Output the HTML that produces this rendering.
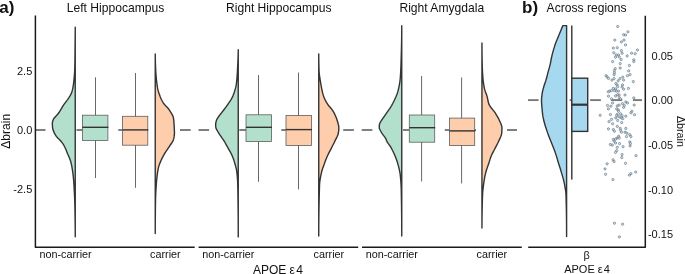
<!DOCTYPE html>
<html lang="en"><head><meta charset="utf-8"><title>Figure</title>
<style>html,body{margin:0;padding:0;background:#fff}svg{display:block}text{font-family:"Liberation Sans",sans-serif;fill:#111}</style>
</head><body>
<svg width="685" height="274" viewBox="0 0 685 274">
<rect width="685" height="274" fill="#ffffff"/>
<g stroke="#7a7a7a" stroke-width="1.9" fill="none">
<line x1="35.5" y1="130.0" x2="45.5" y2="130.0"/>
<line x1="76.5" y1="130.0" x2="82.5" y2="130.0"/>
<line x1="118.3" y1="130.0" x2="122.5" y2="130.0"/>
<line x1="180.0" y1="130.0" x2="190.7" y2="130.0"/>
<line x1="198.5" y1="130.0" x2="209.1" y2="130.0"/>
<line x1="239.3" y1="130.0" x2="246.0" y2="130.0"/>
<line x1="281.3" y1="130.0" x2="286.0" y2="130.0"/>
<line x1="343.2" y1="130.0" x2="353.9" y2="130.0"/>
<line x1="361.7" y1="130.0" x2="372.4" y2="130.0"/>
<line x1="403.0" y1="130.0" x2="409.3" y2="130.0"/>
<line x1="444.8" y1="130.0" x2="449.4" y2="130.0"/>
<line x1="474.7" y1="130.0" x2="476.0" y2="130.0"/>
<line x1="507.0" y1="130.0" x2="517.0" y2="130.0"/>
<line x1="528.0" y1="100.1" x2="538.6" y2="100.1"/>
<line x1="569.6" y1="100.1" x2="572.0" y2="100.1"/>
<line x1="590.1" y1="100.1" x2="600.9" y2="100.1"/>
<line x1="611.1" y1="100.1" x2="622.2" y2="100.1"/>
<line x1="632.9" y1="100.1" x2="642.0" y2="100.1"/>
</g>
<g stroke="#333333" stroke-width="1.4" stroke-linejoin="round">
<path d="M75.50 27.20 L75.50 27.20 L75.49 28.96 L75.48 30.72 L75.47 32.48 L75.45 34.25 L75.44 36.01 L75.43 37.77 L75.41 39.53 L75.39 41.29 L75.38 43.05 L75.36 44.81 L75.34 46.57 L75.32 48.34 L75.30 50.10 L75.28 51.86 L75.26 53.62 L75.24 55.38 L75.22 57.14 L75.20 58.90 L75.17 60.67 L75.14 62.43 L75.11 64.19 L75.08 65.95 L75.03 67.71 L74.99 69.47 L74.91 71.23 L74.80 72.99 L74.67 74.76 L74.53 76.52 L74.36 78.28 L74.20 80.04 L74.01 81.80 L73.79 83.56 L73.54 85.32 L73.25 87.09 L72.92 88.85 L72.51 90.61 L71.97 92.37 L71.21 94.13 L70.26 95.89 L69.23 97.65 L68.07 99.42 L66.74 101.18 L65.37 102.94 L64.07 104.70 L62.95 106.46 L61.95 108.22 L60.91 109.98 L59.78 111.74 L58.51 113.51 L57.03 115.27 L55.42 117.03 L53.91 118.79 L53.16 120.55 L52.67 122.31 L52.61 124.07 L52.69 125.84 L52.83 127.60 L53.11 129.36 L53.75 131.12 L54.51 132.88 L55.43 134.64 L56.60 136.40 L58.29 138.16 L60.10 139.93 L61.56 141.69 L62.88 143.45 L64.05 145.21 L65.00 146.97 L65.81 148.73 L66.53 150.49 L67.22 152.26 L67.94 154.02 L68.71 155.78 L69.47 157.54 L70.19 159.30 L70.82 161.06 L71.31 162.82 L71.71 164.58 L72.07 166.35 L72.38 168.11 L72.66 169.87 L72.92 171.63 L73.15 173.39 L73.36 175.15 L73.56 176.91 L73.73 178.68 L73.89 180.44 L74.02 182.20 L74.15 183.96 L74.26 185.72 L74.37 187.48 L74.46 189.24 L74.55 191.01 L74.64 192.77 L74.72 194.53 L74.80 196.29 L74.88 198.05 L74.95 199.81 L75.01 201.57 L75.06 203.33 L75.10 205.10 L75.14 206.86 L75.17 208.62 L75.21 210.38 L75.24 212.14 L75.27 213.90 L75.30 215.66 L75.33 217.43 L75.36 219.19 L75.38 220.95 L75.40 222.71 L75.43 224.47 L75.44 226.23 L75.46 227.99 L75.47 229.75 L75.49 231.52 L75.49 233.28 L75.50 235.04 L75.50 236.80 L75.50 236.80 Z" fill="#b3e0cc" transform="translate(-0.25 0)"/>
<path d="M155.50 54.00 L155.50 54.00 L155.51 55.51 L155.52 57.02 L155.55 58.53 L155.58 60.03 L155.62 61.54 L155.67 63.05 L155.73 64.56 L155.78 66.07 L155.84 67.58 L155.90 69.08 L155.97 70.59 L156.06 72.10 L156.15 73.61 L156.26 75.12 L156.39 76.63 L156.53 78.13 L156.68 79.64 L156.85 81.15 L157.03 82.66 L157.23 84.17 L157.44 85.68 L157.67 87.18 L157.94 88.69 L158.30 90.20 L158.73 91.71 L159.22 93.22 L159.75 94.73 L160.30 96.24 L160.89 97.74 L161.55 99.25 L162.30 100.76 L163.14 102.27 L164.15 103.78 L165.44 105.29 L166.86 106.79 L168.25 108.30 L169.47 109.81 L170.45 111.32 L171.42 112.83 L172.31 114.34 L173.06 115.84 L173.57 117.35 L173.82 118.86 L174.01 120.37 L174.15 121.88 L174.26 123.39 L174.35 124.89 L174.44 126.40 L174.52 127.91 L174.60 129.42 L174.66 130.93 L174.69 132.44 L174.69 133.95 L174.56 135.45 L174.32 136.96 L174.00 138.47 L173.62 139.98 L172.95 141.49 L171.99 143.00 L170.90 144.50 L169.86 146.01 L168.87 147.52 L167.83 149.03 L166.78 150.54 L165.77 152.05 L164.84 153.55 L163.99 155.06 L163.18 156.57 L162.41 158.08 L161.69 159.59 L161.03 161.10 L160.41 162.61 L159.81 164.11 L159.26 165.62 L158.81 167.13 L158.47 168.64 L158.18 170.15 L157.93 171.66 L157.71 173.16 L157.52 174.67 L157.34 176.18 L157.17 177.69 L157.01 179.20 L156.86 180.71 L156.72 182.21 L156.59 183.72 L156.48 185.23 L156.39 186.74 L156.30 188.25 L156.21 189.76 L156.13 191.26 L156.05 192.77 L155.98 194.28 L155.92 195.79 L155.86 197.30 L155.82 198.81 L155.79 200.32 L155.77 201.82 L155.75 203.33 L155.72 204.84 L155.70 206.35 L155.68 207.86 L155.66 209.37 L155.64 210.87 L155.63 212.38 L155.61 213.89 L155.59 215.40 L155.58 216.91 L155.57 218.42 L155.55 219.92 L155.54 221.43 L155.53 222.94 L155.52 224.45 L155.52 225.96 L155.51 227.47 L155.51 228.97 L155.50 230.48 L155.50 231.99 L155.50 233.50 L155.50 233.50 Z" fill="#fdcdac" transform="translate(-0.25 0)"/>
<path d="M238.50 49.70 L238.50 49.70 L238.48 51.27 L238.44 52.85 L238.40 54.42 L238.36 55.99 L238.30 57.57 L238.24 59.14 L238.18 60.71 L238.11 62.28 L238.04 63.86 L237.97 65.43 L237.89 67.00 L237.81 68.58 L237.72 70.15 L237.64 71.72 L237.55 73.30 L237.45 74.87 L237.35 76.44 L237.23 78.02 L237.09 79.59 L236.94 81.16 L236.77 82.74 L236.56 84.31 L236.28 85.88 L235.93 87.45 L235.53 89.03 L235.06 90.60 L234.55 92.17 L233.99 93.75 L233.40 95.32 L232.76 96.89 L231.95 98.47 L231.00 100.04 L229.97 101.61 L228.91 103.19 L227.85 104.76 L226.73 106.33 L225.57 107.91 L224.37 109.48 L223.17 111.05 L221.93 112.62 L220.65 114.20 L219.46 115.77 L218.35 117.34 L217.31 118.92 L216.65 120.49 L216.22 122.06 L215.95 123.64 L215.91 125.21 L215.99 126.78 L216.30 128.36 L217.05 129.93 L218.02 131.50 L218.99 133.07 L219.95 134.65 L221.03 136.22 L222.16 137.79 L223.27 139.37 L224.29 140.94 L225.23 142.51 L226.13 144.09 L227.00 145.66 L227.86 147.23 L228.72 148.81 L229.62 150.38 L230.51 151.95 L231.37 153.53 L232.16 155.10 L232.83 156.67 L233.43 158.24 L233.99 159.82 L234.49 161.39 L234.96 162.96 L235.41 164.54 L235.85 166.11 L236.27 167.68 L236.64 169.26 L236.92 170.83 L237.12 172.40 L237.29 173.98 L237.44 175.55 L237.58 177.12 L237.70 178.69 L237.81 180.27 L237.89 181.84 L237.96 183.41 L238.00 184.99 L238.03 186.56 L238.06 188.13 L238.09 189.71 L238.12 191.28 L238.14 192.85 L238.17 194.43 L238.19 196.00 L238.22 197.57 L238.24 199.15 L238.26 200.72 L238.28 202.29 L238.30 203.86 L238.32 205.44 L238.34 207.01 L238.36 208.58 L238.37 210.16 L238.39 211.73 L238.40 213.30 L238.41 214.88 L238.43 216.45 L238.44 218.02 L238.45 219.60 L238.46 221.17 L238.46 222.74 L238.47 224.32 L238.48 225.89 L238.48 227.46 L238.49 229.03 L238.49 230.61 L238.50 232.18 L238.50 233.75 L238.50 235.33 L238.50 236.90 L238.50 236.90 Z" fill="#b3e0cc" transform="translate(-0.25 0)"/>
<path d="M319.00 54.00 L319.00 54.00 L319.00 55.53 L319.01 57.06 L319.03 58.59 L319.05 60.12 L319.07 61.65 L319.10 63.18 L319.13 64.71 L319.17 66.24 L319.21 67.76 L319.26 69.29 L319.31 70.82 L319.40 72.35 L319.54 73.88 L319.72 75.41 L319.94 76.94 L320.18 78.47 L320.44 80.00 L320.70 81.53 L320.96 83.06 L321.22 84.59 L321.48 86.12 L321.76 87.65 L322.06 89.18 L322.38 90.71 L322.73 92.24 L323.12 93.76 L323.55 95.29 L324.04 96.82 L324.66 98.35 L325.39 99.88 L326.20 101.41 L327.09 102.94 L328.04 104.47 L329.21 106.00 L330.53 107.53 L331.83 109.06 L332.99 110.59 L333.90 112.12 L334.71 113.65 L335.45 115.18 L336.12 116.71 L336.72 118.24 L337.24 119.76 L337.70 121.29 L338.16 122.82 L338.58 124.35 L338.91 125.88 L339.08 127.41 L339.08 128.94 L338.96 130.47 L338.76 132.00 L338.52 133.53 L338.07 135.06 L337.42 136.59 L336.65 138.12 L335.86 139.65 L335.12 141.18 L334.39 142.71 L333.62 144.24 L332.84 145.76 L332.06 147.29 L331.29 148.82 L330.49 150.35 L329.68 151.88 L328.89 153.41 L328.13 154.94 L327.44 156.47 L326.80 158.00 L326.19 159.53 L325.61 161.06 L325.04 162.59 L324.48 164.12 L323.91 165.65 L323.33 167.18 L322.78 168.71 L322.30 170.24 L321.92 171.76 L321.57 173.29 L321.24 174.82 L320.92 176.35 L320.63 177.88 L320.37 179.41 L320.15 180.94 L319.97 182.47 L319.85 184.00 L319.78 185.53 L319.73 187.06 L319.68 188.59 L319.64 190.12 L319.59 191.65 L319.55 193.18 L319.51 194.71 L319.47 196.24 L319.43 197.76 L319.39 199.29 L319.36 200.82 L319.33 202.35 L319.30 203.88 L319.27 205.41 L319.24 206.94 L319.22 208.47 L319.19 210.00 L319.17 211.53 L319.15 213.06 L319.13 214.59 L319.11 216.12 L319.09 217.65 L319.08 219.18 L319.06 220.71 L319.05 222.24 L319.04 223.76 L319.03 225.29 L319.02 226.82 L319.02 228.35 L319.01 229.88 L319.01 231.41 L319.00 232.94 L319.00 234.47 L319.00 236.00 L319.00 236.00 Z" fill="#fdcdac" transform="translate(-0.25 0)"/>
<path d="M402.00 25.80 L402.00 25.80 L402.00 27.57 L401.99 29.33 L401.98 31.10 L401.97 32.87 L401.95 34.63 L401.93 36.40 L401.90 38.16 L401.87 39.93 L401.84 41.70 L401.81 43.46 L401.77 45.23 L401.73 47.00 L401.69 48.76 L401.64 50.53 L401.60 52.30 L401.55 54.06 L401.50 55.83 L401.45 57.59 L401.39 59.36 L401.34 61.13 L401.29 62.89 L401.23 64.66 L401.17 66.43 L401.11 68.19 L401.03 69.96 L400.95 71.73 L400.85 73.49 L400.74 75.26 L400.61 77.03 L400.47 78.79 L400.28 80.56 L400.04 82.32 L399.75 84.09 L399.42 85.86 L399.05 87.62 L398.65 89.39 L398.21 91.16 L397.69 92.92 L397.03 94.69 L396.29 96.46 L395.50 98.22 L394.70 99.99 L393.85 101.75 L392.94 103.52 L391.96 105.29 L390.92 107.05 L389.75 108.82 L388.49 110.59 L387.24 112.35 L386.05 114.12 L384.88 115.89 L383.68 117.65 L382.42 119.42 L381.29 121.18 L380.18 122.95 L379.59 124.72 L379.52 126.48 L379.55 128.25 L380.34 130.02 L381.33 131.78 L382.43 133.55 L383.67 135.32 L385.07 137.08 L386.11 138.85 L386.79 140.62 L387.62 142.38 L388.91 144.15 L390.21 145.91 L391.27 147.68 L392.25 149.45 L393.17 151.21 L394.02 152.98 L394.81 154.75 L395.55 156.51 L396.24 158.28 L396.88 160.05 L397.46 161.81 L398.00 163.58 L398.50 165.34 L398.96 167.11 L399.37 168.88 L399.76 170.64 L400.11 172.41 L400.40 174.18 L400.60 175.94 L400.77 177.71 L400.92 179.48 L401.07 181.24 L401.19 183.01 L401.30 184.77 L401.39 186.54 L401.45 188.31 L401.50 190.07 L401.54 191.84 L401.57 193.61 L401.61 195.37 L401.64 197.14 L401.67 198.91 L401.70 200.67 L401.73 202.44 L401.76 204.21 L401.78 205.97 L401.81 207.74 L401.83 209.50 L401.85 211.27 L401.87 213.04 L401.89 214.80 L401.91 216.57 L401.92 218.34 L401.94 220.10 L401.95 221.87 L401.96 223.64 L401.97 225.40 L401.98 227.17 L401.99 228.93 L401.99 230.70 L402.00 232.47 L402.00 234.23 L402.00 236.00 L402.00 236.00 Z" fill="#b3e0cc" transform="translate(-0.25 0)"/>
<path d="M482.20 43.00 L482.20 43.00 L482.20 44.55 L482.21 46.11 L482.22 47.66 L482.23 49.22 L482.24 50.77 L482.26 52.33 L482.28 53.88 L482.30 55.44 L482.33 56.99 L482.36 58.55 L482.38 60.10 L482.41 61.66 L482.45 63.21 L482.48 64.76 L482.52 66.32 L482.57 67.87 L482.63 69.43 L482.70 70.98 L482.79 72.54 L482.88 74.09 L482.99 75.65 L483.11 77.20 L483.23 78.76 L483.38 80.31 L483.56 81.87 L483.78 83.42 L484.02 84.97 L484.29 86.53 L484.59 88.08 L484.96 89.64 L485.46 91.19 L486.05 92.75 L486.64 94.30 L487.17 95.86 L487.58 97.41 L487.90 98.97 L488.20 100.52 L488.54 102.08 L488.98 103.63 L489.63 105.18 L490.63 106.74 L491.85 108.29 L493.15 109.85 L494.39 111.40 L495.46 112.96 L496.44 114.51 L497.39 116.07 L498.28 117.62 L499.09 119.18 L499.79 120.73 L500.49 122.29 L501.18 123.84 L501.76 125.39 L502.12 126.95 L502.20 128.50 L502.16 130.06 L502.09 131.61 L501.99 133.17 L501.69 134.72 L501.16 136.28 L500.48 137.83 L499.74 139.39 L499.04 140.94 L498.33 142.50 L497.56 144.05 L496.75 145.61 L495.94 147.16 L495.14 148.71 L494.32 150.27 L493.48 151.82 L492.65 153.38 L491.90 154.93 L491.25 156.49 L490.70 158.04 L490.20 159.60 L489.73 161.15 L489.25 162.71 L488.74 164.26 L488.19 165.82 L487.62 167.37 L487.06 168.92 L486.56 170.48 L486.14 172.03 L485.75 173.59 L485.40 175.14 L485.08 176.70 L484.79 178.25 L484.53 179.81 L484.29 181.36 L484.06 182.92 L483.84 184.47 L483.62 186.03 L483.42 187.58 L483.24 189.13 L483.08 190.69 L482.95 192.24 L482.85 193.80 L482.79 195.35 L482.74 196.91 L482.69 198.46 L482.64 200.02 L482.59 201.57 L482.55 203.13 L482.51 204.68 L482.47 206.24 L482.43 207.79 L482.40 209.34 L482.37 210.90 L482.34 212.45 L482.31 214.01 L482.29 215.56 L482.27 217.12 L482.25 218.67 L482.24 220.23 L482.22 221.78 L482.21 223.34 L482.21 224.89 L482.20 226.45 L482.20 228.00 L482.20 228.00 Z" fill="#fdcdac" transform="translate(-0.25 0)"/>
</g>
<line x1="95.50" y1="77.3" x2="95.50" y2="178.0" stroke="#4d4d4d" stroke-width="0.85"/>
<rect x="82.4" y="115.2" width="25.5" height="25.2" fill="#b3e0cc" stroke="#5e5e5e" stroke-width="0.8"/>
<line x1="82.4" y1="127.3" x2="108.4" y2="127.3" stroke="#333" stroke-width="1.4"/>
<line x1="135.50" y1="73.0" x2="135.50" y2="187.8" stroke="#4d4d4d" stroke-width="0.85"/>
<rect x="122.5" y="116.3" width="25.3" height="28.9" fill="#fdcdac" stroke="#5e5e5e" stroke-width="0.8"/>
<line x1="122.5" y1="129.9" x2="148.3" y2="129.9" stroke="#333" stroke-width="1.4"/>
<line x1="258.50" y1="75.0" x2="258.50" y2="181.8" stroke="#4d4d4d" stroke-width="0.85"/>
<rect x="246.0" y="114.8" width="25.5" height="26.7" fill="#b3e0cc" stroke="#5e5e5e" stroke-width="0.8"/>
<line x1="246.0" y1="127.3" x2="272.0" y2="127.3" stroke="#333" stroke-width="1.4"/>
<line x1="298.50" y1="72.5" x2="298.50" y2="189.3" stroke="#4d4d4d" stroke-width="0.85"/>
<rect x="286.0" y="115.5" width="25.5" height="30.0" fill="#fdcdac" stroke="#5e5e5e" stroke-width="0.8"/>
<line x1="286.0" y1="129.6" x2="312.0" y2="129.6" stroke="#333" stroke-width="1.4"/>
<line x1="421.60" y1="76.0" x2="421.60" y2="181.5" stroke="#4d4d4d" stroke-width="0.85"/>
<rect x="409.3" y="115.0" width="25.4" height="27.2" fill="#b3e0cc" stroke="#5e5e5e" stroke-width="0.8"/>
<line x1="409.3" y1="127.7" x2="435.2" y2="127.7" stroke="#333" stroke-width="1.4"/>
<line x1="461.60" y1="77.5" x2="461.60" y2="183.5" stroke="#4d4d4d" stroke-width="0.85"/>
<rect x="449.4" y="118.1" width="25.3" height="27.4" fill="#fdcdac" stroke="#5e5e5e" stroke-width="0.8"/>
<line x1="449.4" y1="130.9" x2="475.2" y2="130.9" stroke="#333" stroke-width="1.4"/>
<path d="M566.6 25.6 L562.90 25.60 L562.25 27.12 L561.60 28.64 L560.96 30.15 L560.33 31.67 L559.70 33.19 L559.08 34.71 L558.46 36.23 L557.83 37.74 L557.20 39.26 L556.58 40.78 L555.98 42.30 L555.41 43.82 L554.89 45.33 L554.40 46.85 L553.93 48.37 L553.49 49.89 L553.06 51.41 L552.64 52.92 L552.25 54.44 L551.88 55.96 L551.53 57.48 L551.20 59.00 L550.91 60.51 L550.65 62.03 L550.35 63.55 L550.00 65.07 L549.61 66.59 L549.19 68.10 L548.76 69.62 L548.34 71.14 L547.95 72.66 L547.56 74.18 L547.17 75.69 L546.78 77.21 L546.37 78.73 L545.93 80.25 L545.43 81.77 L544.89 83.28 L544.37 84.80 L543.91 86.32 L543.46 87.84 L543.03 89.36 L542.65 90.87 L542.35 92.39 L542.12 93.91 L541.90 95.43 L541.71 96.95 L541.57 98.46 L541.50 99.98 L541.52 101.50 L541.59 103.02 L541.70 104.54 L541.83 106.05 L541.96 107.57 L542.09 109.09 L542.22 110.61 L542.37 112.13 L542.53 113.64 L542.72 115.16 L542.96 116.68 L543.28 118.20 L543.63 119.72 L543.99 121.23 L544.38 122.75 L544.79 124.27 L545.23 125.79 L545.70 127.31 L546.20 128.82 L546.71 130.34 L547.24 131.86 L547.79 133.38 L548.36 134.89 L548.95 136.41 L549.54 137.93 L550.14 139.45 L550.74 140.97 L551.35 142.48 L551.96 144.00 L552.56 145.52 L553.15 147.04 L553.74 148.56 L554.32 150.07 L554.88 151.59 L555.43 153.11 L555.94 154.63 L556.42 156.15 L556.87 157.66 L557.31 159.18 L557.76 160.70 L558.22 162.22 L558.70 163.74 L559.19 165.25 L559.67 166.77 L560.15 168.29 L560.62 169.81 L561.07 171.33 L561.51 172.84 L561.96 174.36 L562.40 175.88 L562.84 177.40 L563.25 178.92 L563.64 180.43 L564.00 181.95 L564.32 183.47 L564.60 184.99 L564.89 186.51 L565.17 188.02 L565.43 189.54 L565.65 191.06 L565.84 192.58 L565.96 194.10 L566.02 195.61 L566.06 197.13 L566.11 198.65 L566.15 200.17 L566.19 201.69 L566.23 203.20 L566.26 204.72 L566.29 206.24 L566.33 207.76 L566.36 209.28 L566.38 210.79 L566.41 212.31 L566.43 213.83 L566.46 215.35 L566.48 216.87 L566.50 218.38 L566.51 219.90 L566.53 221.42 L566.54 222.94 L566.55 224.46 L566.57 225.97 L566.57 227.49 L566.58 229.01 L566.59 230.53 L566.59 232.05 L566.60 233.56 L566.60 235.08 L566.60 236.60 L566.6 236.6 Z" fill="#a6d8f0" stroke="#333333" stroke-width="1.4" stroke-linejoin="round"/>
<line x1="571.8" y1="25.6" x2="571.8" y2="179.5" stroke="#333" stroke-width="1.4"/>
<rect x="571.8" y="78.2" width="15.9" height="53.2" fill="#a6d8f0" stroke="#333" stroke-width="1.4"/>
<line x1="571.8" y1="104.7" x2="587.7" y2="104.7" stroke="#333" stroke-width="2.2"/>
<g fill="#c0deef" fill-opacity="0.9" stroke="#46525e" stroke-width="0.5">
<circle cx="617.7" cy="26.5" r="1.15"/>
<circle cx="627.9" cy="31.8" r="1.15"/>
<circle cx="623.6" cy="34.7" r="1.15"/>
<circle cx="625.5" cy="35.0" r="1.15"/>
<circle cx="614.8" cy="40.1" r="1.15"/>
<circle cx="624.0" cy="40.1" r="1.15"/>
<circle cx="621.4" cy="41.9" r="1.15"/>
<circle cx="625.5" cy="44.9" r="1.15"/>
<circle cx="613.3" cy="48.1" r="1.15"/>
<circle cx="617.3" cy="47.7" r="1.15"/>
<circle cx="621.4" cy="50.6" r="1.15"/>
<circle cx="637.4" cy="50.0" r="1.15"/>
<circle cx="613.8" cy="52.8" r="1.15"/>
<circle cx="622.1" cy="53.2" r="1.15"/>
<circle cx="631.6" cy="53.2" r="1.15"/>
<circle cx="635.2" cy="53.7" r="1.15"/>
<circle cx="616.3" cy="55.0" r="1.15"/>
<circle cx="618.5" cy="55.0" r="1.15"/>
<circle cx="627.2" cy="55.9" r="1.15"/>
<circle cx="615.5" cy="57.2" r="1.15"/>
<circle cx="619.2" cy="56.9" r="1.15"/>
<circle cx="621.1" cy="59.5" r="1.15"/>
<circle cx="633.8" cy="59.8" r="1.15"/>
<circle cx="612.6" cy="61.6" r="1.15"/>
<circle cx="633.8" cy="61.6" r="1.15"/>
<circle cx="620.2" cy="63.6" r="1.15"/>
<circle cx="629.4" cy="65.5" r="1.15"/>
<circle cx="620.2" cy="68.0" r="1.15"/>
<circle cx="615.2" cy="68.7" r="1.15"/>
<circle cx="614.4" cy="70.6" r="1.15"/>
<circle cx="628.7" cy="70.9" r="1.15"/>
<circle cx="614.4" cy="72.8" r="1.15"/>
<circle cx="614.1" cy="74.7" r="1.15"/>
<circle cx="630.1" cy="74.6" r="1.15"/>
<circle cx="627.5" cy="75.7" r="1.15"/>
<circle cx="606.1" cy="75.7" r="1.15"/>
<circle cx="607.1" cy="76.9" r="1.15"/>
<circle cx="608.5" cy="78.4" r="1.15"/>
<circle cx="622.8" cy="77.2" r="1.15"/>
<circle cx="614.1" cy="78.6" r="1.15"/>
<circle cx="619.9" cy="78.6" r="1.15"/>
<circle cx="611.9" cy="80.1" r="1.15"/>
<circle cx="623.6" cy="80.1" r="1.15"/>
<circle cx="618.2" cy="80.8" r="1.15"/>
<circle cx="633.3" cy="81.6" r="1.15"/>
<circle cx="615.8" cy="83.5" r="1.15"/>
<circle cx="617.0" cy="84.9" r="1.15"/>
<circle cx="622.5" cy="84.9" r="1.15"/>
<circle cx="617.7" cy="86.7" r="1.15"/>
<circle cx="622.1" cy="87.1" r="1.15"/>
<circle cx="613.3" cy="88.4" r="1.15"/>
<circle cx="615.5" cy="88.9" r="1.15"/>
<circle cx="623.6" cy="89.2" r="1.15"/>
<circle cx="628.4" cy="88.4" r="1.15"/>
<circle cx="609.7" cy="91.1" r="1.15"/>
<circle cx="611.5" cy="90.6" r="1.15"/>
<circle cx="614.5" cy="90.6" r="1.15"/>
<circle cx="616.3" cy="91.1" r="1.15"/>
<circle cx="618.5" cy="91.1" r="1.15"/>
<circle cx="608.2" cy="91.8" r="1.15"/>
<circle cx="617.7" cy="94.7" r="1.15"/>
<circle cx="619.2" cy="95.1" r="1.15"/>
<circle cx="625.0" cy="95.0" r="1.15"/>
<circle cx="608.5" cy="96.2" r="1.15"/>
<circle cx="615.5" cy="95.9" r="1.15"/>
<circle cx="619.2" cy="97.6" r="1.15"/>
<circle cx="633.8" cy="97.9" r="1.15"/>
<circle cx="611.5" cy="98.8" r="1.15"/>
<circle cx="620.6" cy="99.1" r="1.15"/>
<circle cx="612.6" cy="103.0" r="1.15"/>
<circle cx="625.8" cy="101.9" r="1.15"/>
<circle cx="627.5" cy="103.0" r="1.15"/>
<circle cx="622.5" cy="103.6" r="1.15"/>
<circle cx="607.5" cy="105.5" r="1.15"/>
<circle cx="610.9" cy="106.2" r="1.15"/>
<circle cx="617.3" cy="105.9" r="1.15"/>
<circle cx="619.2" cy="105.1" r="1.15"/>
<circle cx="624.3" cy="105.5" r="1.15"/>
<circle cx="634.2" cy="105.1" r="1.15"/>
<circle cx="623.6" cy="107.4" r="1.15"/>
<circle cx="608.5" cy="108.9" r="1.15"/>
<circle cx="616.7" cy="108.9" r="1.15"/>
<circle cx="618.2" cy="109.9" r="1.15"/>
<circle cx="618.5" cy="111.3" r="1.15"/>
<circle cx="631.9" cy="111.3" r="1.15"/>
<circle cx="630.9" cy="112.8" r="1.15"/>
<circle cx="600.2" cy="115.3" r="1.15"/>
<circle cx="610.4" cy="114.6" r="1.15"/>
<circle cx="617.3" cy="114.6" r="1.15"/>
<circle cx="620.6" cy="113.8" r="1.15"/>
<circle cx="634.5" cy="114.7" r="1.15"/>
<circle cx="616.7" cy="115.4" r="1.15"/>
<circle cx="622.1" cy="115.7" r="1.15"/>
<circle cx="625.8" cy="116.2" r="1.15"/>
<circle cx="619.2" cy="116.9" r="1.15"/>
<circle cx="615.8" cy="117.9" r="1.15"/>
<circle cx="621.4" cy="117.9" r="1.15"/>
<circle cx="622.8" cy="118.6" r="1.15"/>
<circle cx="611.5" cy="119.4" r="1.15"/>
<circle cx="617.7" cy="120.5" r="1.15"/>
<circle cx="609.0" cy="121.6" r="1.15"/>
<circle cx="621.7" cy="122.6" r="1.15"/>
<circle cx="612.6" cy="123.8" r="1.15"/>
<circle cx="617.3" cy="126.4" r="1.15"/>
<circle cx="608.5" cy="128.9" r="1.15"/>
<circle cx="620.2" cy="128.4" r="1.15"/>
<circle cx="625.8" cy="128.4" r="1.15"/>
<circle cx="613.3" cy="129.6" r="1.15"/>
<circle cx="620.6" cy="130.3" r="1.15"/>
<circle cx="614.4" cy="131.3" r="1.15"/>
<circle cx="621.4" cy="132.2" r="1.15"/>
<circle cx="625.0" cy="132.2" r="1.15"/>
<circle cx="626.9" cy="133.2" r="1.15"/>
<circle cx="629.8" cy="134.7" r="1.15"/>
<circle cx="618.7" cy="136.2" r="1.15"/>
<circle cx="626.5" cy="136.6" r="1.15"/>
<circle cx="630.9" cy="136.6" r="1.15"/>
<circle cx="617.0" cy="138.1" r="1.15"/>
<circle cx="619.2" cy="138.1" r="1.15"/>
<circle cx="615.5" cy="139.1" r="1.15"/>
<circle cx="613.3" cy="139.5" r="1.15"/>
<circle cx="614.1" cy="141.1" r="1.15"/>
<circle cx="629.8" cy="141.9" r="1.15"/>
<circle cx="615.5" cy="143.0" r="1.15"/>
<circle cx="619.6" cy="143.6" r="1.15"/>
<circle cx="610.4" cy="144.5" r="1.15"/>
<circle cx="612.3" cy="145.1" r="1.15"/>
<circle cx="630.4" cy="143.6" r="1.15"/>
<circle cx="630.1" cy="145.9" r="1.15"/>
<circle cx="617.3" cy="147.3" r="1.15"/>
<circle cx="623.1" cy="146.7" r="1.15"/>
<circle cx="616.7" cy="150.6" r="1.15"/>
<circle cx="615.5" cy="152.4" r="1.15"/>
<circle cx="622.1" cy="154.6" r="1.15"/>
<circle cx="636.0" cy="155.7" r="1.15"/>
<circle cx="621.8" cy="157.6" r="1.15"/>
<circle cx="613.1" cy="159.8" r="1.15"/>
<circle cx="614.1" cy="161.6" r="1.15"/>
<circle cx="607.1" cy="163.8" r="1.15"/>
<circle cx="625.5" cy="163.3" r="1.15"/>
<circle cx="605.0" cy="168.9" r="1.15"/>
<circle cx="635.7" cy="172.1" r="1.15"/>
<circle cx="605.6" cy="174.3" r="1.15"/>
<circle cx="630.9" cy="173.7" r="1.15"/>
<circle cx="629.4" cy="175.1" r="1.15"/>
<circle cx="612.9" cy="179.6" r="1.15"/>
<circle cx="614.5" cy="223.2" r="1.15"/>
<circle cx="622.6" cy="224.2" r="1.15"/>
<circle cx="619.4" cy="236.9" r="1.15"/>
</g>
<g stroke="#1a1a1a" stroke-width="1.5" fill="none" stroke-linecap="butt" stroke-linejoin="round">
<path d="M35.4 15.6 V247.2 H194.7"/>
<path d="M198.6 247.2 H358.2"/>
<path d="M362 247.2 H521.8"/>
<path d="M528.2 247.2 H645.3 V15.8"/>
</g>
<text x="-0.8" y="13.4" font-size="17" font-weight="bold">a)</text>
<text x="522" y="13.2" font-size="17" font-weight="bold">b)</text>
<text x="115.5" y="11.8" font-size="12.1" text-anchor="middle">Left Hippocampus</text>
<text x="278.8" y="11.8" font-size="12.1" text-anchor="middle">Right Hippocampus</text>
<text x="441.8" y="11.8" font-size="12.1" text-anchor="middle">Right Amygdala</text>
<text x="586.6" y="11.8" font-size="12.1" text-anchor="middle">Across regions</text>
<text x="32.3" y="74.9" font-size="11" text-anchor="end">2.5</text>
<text x="32.3" y="133.9" font-size="11" text-anchor="end">0.0</text>
<text x="32.3" y="193.1" font-size="11" text-anchor="end">-2.5</text>
<text x="673" y="60.3" font-size="11" text-anchor="end">0.05</text>
<text x="673" y="104.3" font-size="11" text-anchor="end">0.00</text>
<text x="673" y="149.1" font-size="11" text-anchor="end">-0.05</text>
<text x="673" y="193.6" font-size="11" text-anchor="end">-0.10</text>
<text x="673" y="237.9" font-size="11" text-anchor="end">-0.15</text>
<text transform="translate(9.9 131.3) rotate(-90)" font-size="12" text-anchor="middle">Δbrain</text>
<text transform="translate(676.5 131.4) rotate(90)" font-size="10.7" text-anchor="middle">Δbrain</text>
<text x="65.6" y="258.1" font-size="10.8" text-anchor="middle">non-carrier</text>
<text x="228.3" y="258.1" font-size="10.8" text-anchor="middle">non-carrier</text>
<text x="391.8" y="258.1" font-size="10.8" text-anchor="middle">non-carrier</text>
<text x="165.4" y="258.1" font-size="10.8" text-anchor="middle">carrier</text>
<text x="328.9" y="258.1" font-size="10.8" text-anchor="middle">carrier</text>
<text x="491.9" y="258.1" font-size="10.8" text-anchor="middle">carrier</text>
<text x="586.5" y="259" font-size="10.8" text-anchor="middle">β</text>
<text x="277.9" y="273.5" font-size="12" text-anchor="middle">APOE ε<tspan dx="1.2">4</tspan></text>
<text x="587" y="272.9" font-size="11" text-anchor="middle">APOE ε<tspan dx="1.0">4</tspan></text>
</svg>
</body></html>
